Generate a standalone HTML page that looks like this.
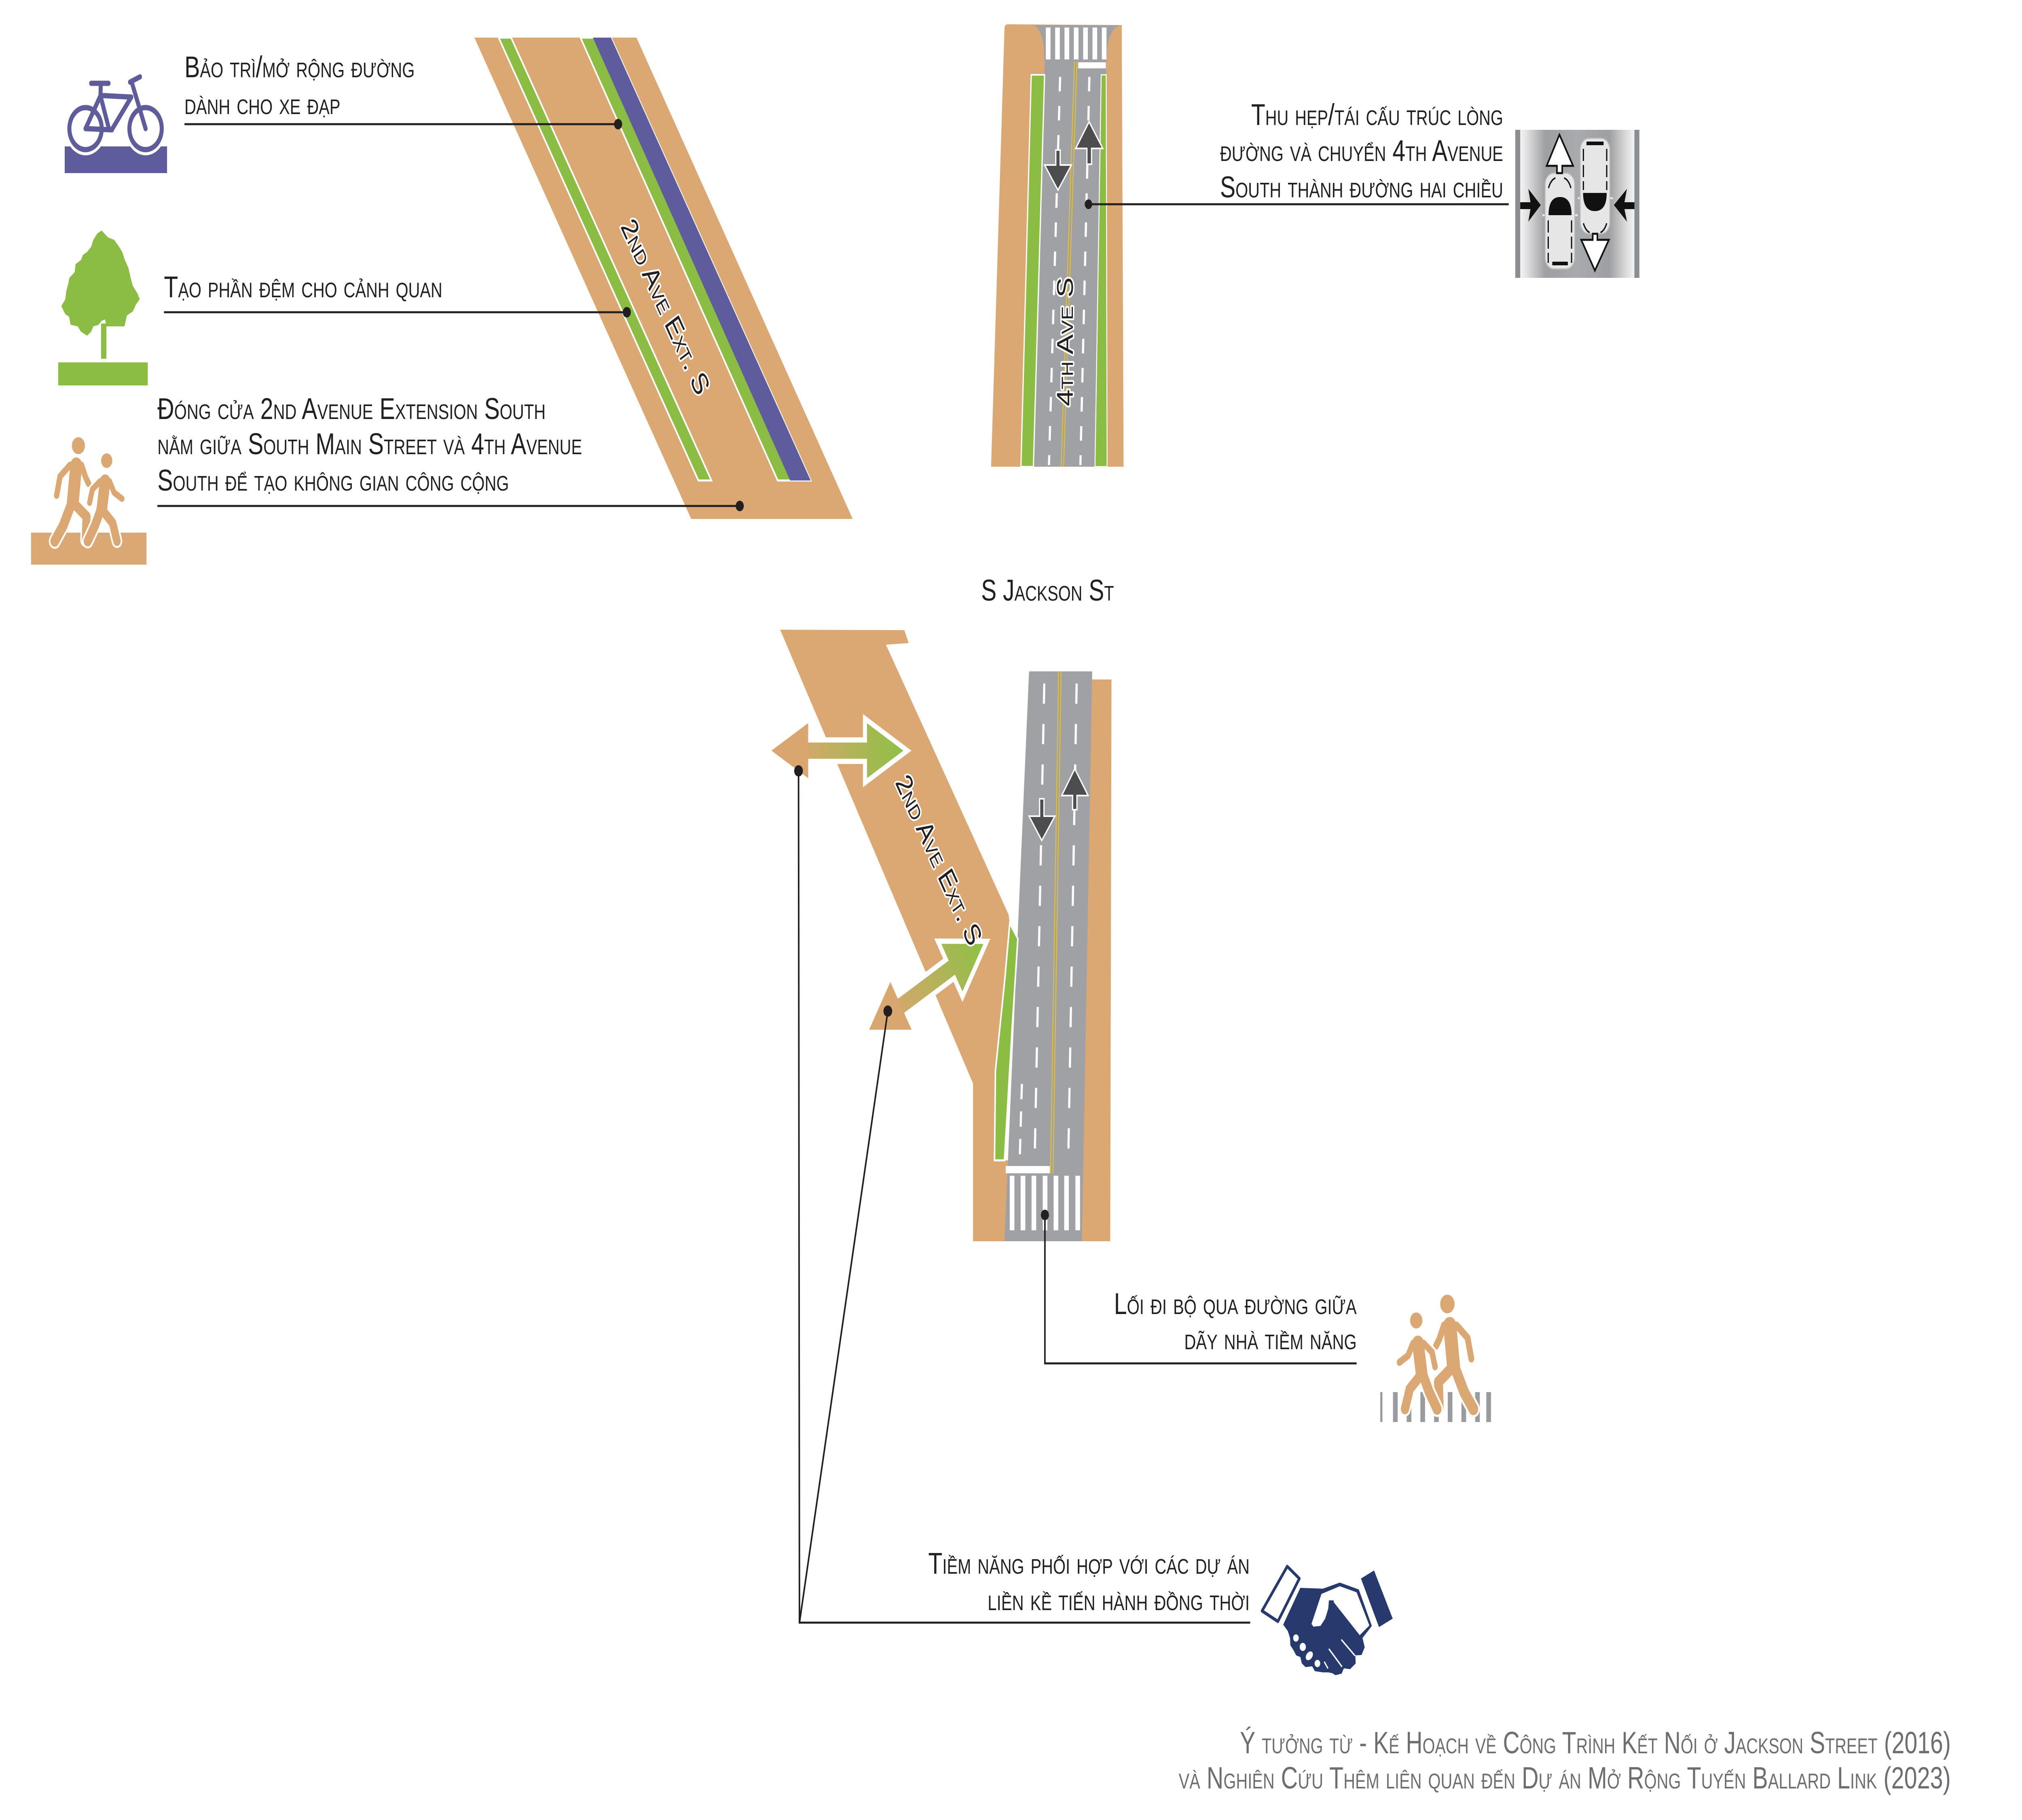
<!DOCTYPE html>
<html>
<head>
<meta charset="utf-8">
<style>
html,body{margin:0;padding:0;background:#fff;width:100%;height:100%;overflow:hidden;}
svg{display:block;width:100vw;height:100vh;}
.t{font-family:"Liberation Sans","DejaVu Sans",sans-serif;font-variant:small-caps;font-size:74px;fill:#231f20;}
.f{fill:#6d6e71;font-size:76px;}
.r{stroke:#fff;stroke-width:9px;paint-order:stroke;stroke-linejoin:round;}
</style>
</head>
<body>
<svg xmlns="http://www.w3.org/2000/svg" viewBox="0 0 6500 4500" preserveAspectRatio="none">
<defs>
  <linearGradient id="ag" gradientUnits="userSpaceOnUse" x1="2560" y1="0" x2="2900" y2="0">
    <stop offset="0" stop-color="#d9a66f"/>
    <stop offset="1" stop-color="#8fc045"/>
  </linearGradient>
  <linearGradient id="cg" gradientUnits="userSpaceOnUse" x1="4887" y1="0" x2="5254" y2="0">
    <stop offset="0" stop-color="#f4f4f4"/>
    <stop offset="0.07" stop-color="#dcdcdd"/>
    <stop offset="0.22" stop-color="#9e9fa2"/>
    <stop offset="0.5" stop-color="#a9aaad"/>
    <stop offset="0.78" stop-color="#9e9fa2"/>
    <stop offset="0.93" stop-color="#dcdcdd"/>
    <stop offset="1" stop-color="#f4f4f4"/>
  </linearGradient>
</defs>

<rect x="0" y="0" width="6500" height="4500" fill="#fff"/>

<!-- ===== Bike icon ===== -->
<rect x="208" y="362" width="329" height="66" fill="#5e5c9a"/>
<circle cx="275" cy="318" r="52" fill="none" stroke="#fff" stroke-width="28"/>
<circle cx="468" cy="318" r="52" fill="none" stroke="#fff" stroke-width="28"/>
<g stroke="#5e5c9a" stroke-width="13" fill="none" stroke-linecap="round" stroke-linejoin="round">
  <circle cx="275" cy="318" r="52"/>
  <circle cx="468" cy="318" r="52"/>
  <line x1="293" y1="206" x2="349" y2="206"/>
  <line x1="324" y1="208" x2="323" y2="237"/>
  <line x1="321" y1="240" x2="275" y2="318"/>
  <line x1="323" y1="237" x2="350" y2="318"/>
  <line x1="275" y1="318" x2="360" y2="321"/>
  <line x1="360" y1="320" x2="422" y2="240"/>
  <line x1="323" y1="236" x2="422" y2="240"/>
  <line x1="423" y1="202" x2="468" y2="318"/>
  <line x1="418" y1="203" x2="450" y2="190"/>
</g>

<!-- ===== Tree icon ===== -->
<polygon fill="#8bbd45" points="327,570 347,587 367,593 380,607 393,623 400,640 413,663 420,687 427,707 443,727 449,740 437,753 427,770 408,780 400,807 377,807 357,807 342,807 338,790 327,793 317,803 300,807 293,820 280,830 260,820 250,807 227,803 222,783 210,777 197,757 210,740 213,720 220,700 223,687 240,673 243,653 260,643 267,630 280,623 293,610 300,593 313,577"/>
<rect x="325" y="800" width="17" height="87" fill="#8bbd45"/>
<rect x="187" y="896" width="288" height="57" fill="#8bbd45"/>

<!-- ===== Walkers icon (top-left) ===== -->
<rect x="100" y="1317" width="371" height="79" fill="#dba874"/>
<g stroke-linecap="round" stroke-linejoin="round" fill="none">
  <g stroke="#fff">
    <line x1="245" y1="1150" x2="234" y2="1242" stroke-width="48"/>
    <polyline points="230,1245 203,1300 176,1338" stroke-width="38"/>
    <polyline points="238,1245 278,1277 276,1335" stroke-width="36"/>
  </g>
  <g stroke="#dba874">
    <line x1="245" y1="1150" x2="234" y2="1242" stroke-width="38"/>
    <polyline points="225,1150 193,1178 182,1225" stroke-width="17"/>
    <polyline points="262,1150 275,1180 285,1196" stroke-width="17"/>
    <polyline points="230,1245 203,1300 176,1338" stroke-width="28"/>
    <polyline points="238,1245 278,1277 276,1335" stroke-width="26"/>
  </g>
  <g stroke="#fff">
    <line x1="338" y1="1190" x2="327" y2="1260" stroke-width="44"/>
    <polyline points="322,1190 297,1210 288,1243" stroke-width="26"/>
    <polyline points="323,1262 305,1300 282,1338" stroke-width="36"/>
    <polyline points="330,1262 362,1293 376,1338" stroke-width="34"/>
  </g>
  <g stroke="#dba874">
    <line x1="338" y1="1190" x2="327" y2="1260" stroke-width="34"/>
    <polyline points="322,1190 297,1210 288,1243" stroke-width="16"/>
    <polyline points="352,1190 367,1218 392,1233" stroke-width="16"/>
    <polyline points="323,1262 305,1300 282,1338" stroke-width="26"/>
    <polyline points="330,1262 362,1293 376,1338" stroke-width="24"/>
  </g>
</g>
<circle cx="252" cy="1102" r="21" fill="#dba874"/>
<circle cx="343" cy="1139" r="18" fill="#dba874"/>

<!-- ===== Upper 2nd Ave Ext ===== -->
<polygon points="1525,93 2046,93 2741,1283 2222,1283" fill="#dba874"/>
<polygon points="1603,93 1643,93 2287,1188 2245,1188" fill="#8bbd45" stroke="#fff" stroke-width="5"/>
<polygon points="1866,93 1964,93 2606,1188 2500,1188" fill="#8bbd45" stroke="#fff" stroke-width="5"/>
<polygon points="1906,93 1964,93 2606,1188 2540,1188" fill="#5e5c9a"/>
<text class="t r" transform="translate(2140,758) rotate(59.6)" x="0" y="26" text-anchor="middle" textLength="490" lengthAdjust="spacingAndGlyphs">2nd Ave Ext. S</text>

<!-- ===== Upper 4th Ave ===== -->
<path d="M3240,60 L3606,62 L3612,1154 L3186,1154 L3229,72 Q3229,60 3240,60 Z" fill="#dba874"/>
<path d="M3322,62 L3600,62 Q3566,72 3560,120 L3556,160 L3559,1154 L3322,1154 L3358,160 L3356,120 Q3350,72 3322,62 Z" fill="#a0a1a5"/>
<g fill="#fff">
  <rect x="3362" y="68" width="15" height="79"/>
  <rect x="3392" y="68" width="15" height="79"/>
  <rect x="3422" y="68" width="15" height="79"/>
  <rect x="3452" y="68" width="15" height="79"/>
  <rect x="3482" y="68" width="15" height="79"/>
  <rect x="3512" y="68" width="15" height="79"/>
  <rect x="3542" y="68" width="15" height="79"/>
  <rect x="3466" y="154" width="89" height="15"/>
</g>
<polygon points="3315,185 3358,185 3322,1154 3282,1154" fill="#8bbd45" stroke="#fff" stroke-width="4"/>
<polygon points="3540,185 3556,185 3559,1154 3520,1154" fill="#8bbd45" stroke="#fff" stroke-width="3"/>
<line x1="3454" y1="152" x2="3411" y2="1154" stroke="#e5c02e" stroke-width="3"/>
<line x1="3462" y1="152" x2="3419" y2="1154" stroke="#e5c02e" stroke-width="3"/>
<line x1="3408" y1="190" x2="3372" y2="1150" stroke="#fff" stroke-width="7" stroke-dasharray="36 36"/>
<line x1="3502" y1="190" x2="3473" y2="1150" stroke="#fff" stroke-width="7" stroke-dasharray="36 36"/>
<path d="M3394,371 L3408,371 L3408,408 L3444,408 L3401,470 L3358,408 L3394,408 Z" fill="#4d4d4f" stroke="#fff" stroke-width="4"/>
<path d="M3501,301 L3545,367 L3509,367 L3509,406 L3494,406 L3494,367 L3458,367 Z" fill="#4d4d4f" stroke="#fff" stroke-width="4"/>
<text class="t r" transform="translate(3423,845) rotate(-90)" x="0" y="26" text-anchor="middle" textLength="319" lengthAdjust="spacingAndGlyphs">4th Ave S</text>

<!-- ===== Car icon ===== -->
<rect x="4871" y="321" width="399" height="366" fill="#8c8d90"/>
<rect x="4887" y="321" width="367" height="366" fill="url(#cg)"/>
<path d="M4887,500 L4920,500 L4913,467 L4953,507 L4913,548 L4920,517 L4887,517 Z" fill="#111"/>
<path d="M5254,500 L5222,500 L5230,467 L5188,507 L5230,548 L5222,517 L5254,517 Z" fill="#111"/>
<line x1="4958" y1="532" x2="5072" y2="532" stroke="#e6e6e6" stroke-width="5"/>
<rect x="4967" y="428" width="95" height="237" rx="28" fill="#e6e6e6" stroke="#bdbdbd" stroke-width="3"/>
<path d="M4978,532 Q4978,487 5015,487 Q5052,487 5052,532 Z" fill="#111"/>
<rect x="4990" y="647" width="50" height="9" fill="#111"/>
<line x1="4977" y1="545" x2="4977" y2="650" stroke="#111" stroke-width="4" stroke-dasharray="30 10"/>
<line x1="5052" y1="545" x2="5052" y2="650" stroke="#111" stroke-width="4" stroke-dasharray="30 10"/>
<path d="M4978,465 Q4985,445 5000,440 M5050,465 Q5043,445 5028,440" stroke="#111" stroke-width="4" fill="none"/>
<path d="M5013,333 L5057,410 L5022,410 L5022,428 L5005,428 L5005,410 L4972,410 Z" fill="#fff" stroke="#111" stroke-width="5" stroke-linejoin="miter"/>
<line x1="5072" y1="490" x2="5185" y2="490" stroke="#e6e6e6" stroke-width="5"/>
<rect x="5080" y="342" width="95" height="236" rx="28" fill="#e6e6e6" stroke="#bdbdbd" stroke-width="3"/>
<path d="M5089,477 Q5089,522 5127,522 Q5165,522 5165,477 Z" fill="#111"/>
<rect x="5100" y="350" width="55" height="9" fill="#111"/>
<line x1="5090" y1="368" x2="5090" y2="470" stroke="#111" stroke-width="4" stroke-dasharray="30 10"/>
<line x1="5165" y1="368" x2="5165" y2="470" stroke="#111" stroke-width="4" stroke-dasharray="30 10"/>
<path d="M5090,552 Q5097,570 5110,575 M5165,552 Q5158,570 5145,575" stroke="#111" stroke-width="4" fill="none"/>
<path d="M5127,669 L5083,593 L5120,593 L5120,578 L5135,578 L5135,593 L5172,593 Z" fill="#fff" stroke="#111" stroke-width="5"/>

<!-- ===== S Jackson St ===== -->
<text class="t" x="3154" y="1485" textLength="427" lengthAdjust="spacingAndGlyphs">S Jackson St</text>

<!-- ===== Lower 2nd Ave tan ===== -->
<polygon points="2508,1557 2907,1558 2921,1590 2848,1594 3242,2261 3246,2283 3229,2430 3200,2647 3197,2869 3262,2869 3262,3069 3128,3069 3128,2679" fill="#dba874"/>
<polygon points="3505,1680 3573,1680 3569,3069 3470,3069" fill="#dba874"/>
<polygon points="3308,1660 3511,1660 3478,3069 3229,3069" fill="#a0a1a5"/>
<polygon points="3246,2283 3272,2321 3254,2538 3229,2869 3197,2869 3200,2647 3229,2430" fill="#8bbd45" stroke="#fff" stroke-width="5"/>
<line x1="3403" y1="1660" x2="3377" y2="2901" stroke="#e5c02e" stroke-width="3"/>
<line x1="3411" y1="1660" x2="3385" y2="2901" stroke="#e5c02e" stroke-width="3"/>
<line x1="3357" y1="1690" x2="3326" y2="2870" stroke="#fff" stroke-width="7" stroke-dasharray="50 50"/>
<line x1="3461" y1="1690" x2="3434" y2="2870" stroke="#fff" stroke-width="7" stroke-dasharray="50 50"/>
<line x1="3285" y1="2680" x2="3278" y2="2869" stroke="#fff" stroke-width="7" stroke-dasharray="38 30"/>
<g fill="#fff">
  <rect x="3233" y="2883" width="142" height="18"/>
  <rect x="3246" y="2907" width="15" height="135"/>
  <rect x="3281" y="2907" width="15" height="135"/>
  <rect x="3316" y="2907" width="15" height="135"/>
  <rect x="3352" y="2907" width="15" height="135"/>
  <rect x="3387" y="2907" width="15" height="135"/>
  <rect x="3421" y="2907" width="15" height="135"/>
  <rect x="3457" y="2907" width="15" height="135"/>
</g>
<path d="M3342,1975 L3356,1975 L3356,2018 L3391,2018 L3349,2078 L3308,2018 L3342,2018 Z" fill="#4d4d4f" stroke="#fff" stroke-width="4"/>
<path d="M3455,1901 L3498,1967 L3462,1967 L3462,2002 L3448,2002 L3448,1967 L3413,1967 Z" fill="#4d4d4f" stroke="#fff" stroke-width="4"/>

<!-- ===== Double arrows ===== -->
<path d="M2480,1856 L2598,1788 L2598,1836 L2787,1836 L2787,1788 L2904,1856 L2787,1924 L2787,1876 L2598,1876 L2598,1924 Z" fill="#fff" stroke="#fff" stroke-width="26" stroke-linejoin="miter"/>
<path d="M2480,1856 L2598,1788 L2598,1836 L2787,1836 L2787,1788 L2904,1856 L2787,1924 L2787,1876 L2598,1876 L2598,1924 Z" fill="url(#ag)"/>
<g transform="translate(2794,2546) rotate(-30) translate(-2480,-1856)">
  <path d="M2480,1856 L2598,1788 L2598,1836 L2787,1836 L2787,1788 L2904,1856 L2787,1924 L2787,1876 L2598,1876 L2598,1924 Z" fill="#fff" stroke="#fff" stroke-width="26" stroke-linejoin="miter"/>
  <path d="M2480,1856 L2598,1788 L2598,1836 L2787,1836 L2787,1788 L2904,1856 L2787,1924 L2787,1876 L2598,1876 L2598,1924 Z" fill="url(#ag)"/>
</g>
<path d="M2480,1856 L2598,1788 L2598,1924 Z" fill="#d9a66f"/>
<g transform="translate(2794,2546) rotate(-30) translate(-2480,-1856)">
  <path d="M2480,1856 L2598,1788 L2598,1924 Z" fill="#d9a66f"/>
</g>

<text class="t r" transform="translate(3019,2126) rotate(59.6)" x="0" y="26" text-anchor="middle" textLength="475" lengthAdjust="spacingAndGlyphs">2nd Ave Ext. S</text>

<!-- ===== Leader lines ===== -->
<g stroke="#231f20" stroke-width="5" fill="none">
  <line x1="593" y1="307" x2="1987" y2="307"/>
  <line x1="527" y1="772" x2="2015" y2="772"/>
  <line x1="506" y1="1251" x2="2378" y2="1251"/>
  <line x1="3499" y1="505" x2="4850" y2="505"/>
  <polyline points="3359,3004 3359,3371 4361,3371"/>
  <polyline points="2567,1906 2570,4012 4019,4012"/>
  <line x1="2854" y1="2500" x2="2570" y2="4012"/>
</g>
<g fill="#231f20">
  <circle cx="1987" cy="307" r="13"/>
  <circle cx="2015" cy="772" r="13"/>
  <circle cx="2378" cy="1251" r="13"/>
  <circle cx="3499" cy="505" r="12"/>
  <circle cx="3359" cy="3004" r="13"/>
  <circle cx="2567" cy="1906" r="14"/>
  <circle cx="2854" cy="2500" r="14"/>
</g>

<!-- ===== Texts ===== -->
<text class="t" x="593" y="191" textLength="740" lengthAdjust="spacingAndGlyphs">Bảo trì/mở rộng đường</text>
<text class="t" x="593" y="282" textLength="501" lengthAdjust="spacingAndGlyphs">dành cho xe đạp</text>
<text class="t" x="527" y="735" textLength="895" lengthAdjust="spacingAndGlyphs">Tạo phần đệm cho cảnh quan</text>
<text class="t" x="506" y="1036" textLength="1248" lengthAdjust="spacingAndGlyphs">Đóng cửa 2nd Avenue Extension South</text>
<text class="t" x="506" y="1123" textLength="1365" lengthAdjust="spacingAndGlyphs">nằm giữa South Main Street và 4th Avenue</text>
<text class="t" x="506" y="1213" textLength="1130" lengthAdjust="spacingAndGlyphs">South để tạo không gian công cộng</text>

<text class="t" x="4832" y="309" text-anchor="end" textLength="810" lengthAdjust="spacingAndGlyphs">Thu hẹp/tái cấu trúc lòng</text>
<text class="t" x="4832" y="398" text-anchor="end" textLength="910" lengthAdjust="spacingAndGlyphs">đường và chuyển 4th Avenue</text>
<text class="t" x="4832" y="488" text-anchor="end" textLength="910" lengthAdjust="spacingAndGlyphs">South thành đường hai chiều</text>

<text class="t" x="4361" y="3249" text-anchor="end" textLength="780" lengthAdjust="spacingAndGlyphs">Lối đi bộ qua đường giữa</text>
<text class="t" x="4361" y="3336" text-anchor="end" textLength="554" lengthAdjust="spacingAndGlyphs">dãy nhà tiềm năng</text>

<text class="t" x="4017" y="3891" text-anchor="end" textLength="1033" lengthAdjust="spacingAndGlyphs">Tiềm năng phối hợp với các dự án</text>
<text class="t" x="4017" y="3981" text-anchor="end" textLength="842" lengthAdjust="spacingAndGlyphs">liền kề tiến hành đồng thời</text>

<text class="t f" x="6271" y="4335" text-anchor="end" textLength="2285" lengthAdjust="spacingAndGlyphs">Ý tưởng từ - Kế Hoạch về Công Trình Kết Nối ở Jackson Street (2016)</text>
<text class="t f" x="6271" y="4422" text-anchor="end" textLength="2482" lengthAdjust="spacingAndGlyphs">và Nghiên Cứu Thêm liên quan đến Dự án Mở Rộng Tuyến Ballard Link (2023)</text>

<!-- ===== Pedestrian crossing icon (bottom right) ===== -->
<g fill="#9a9b9f">
  <rect x="4437" y="3442" width="7" height="74"/>
  <rect x="4478" y="3442" width="15" height="74"/>
  <rect x="4522" y="3442" width="15" height="74"/>
  <rect x="4566" y="3442" width="15" height="74"/>
  <rect x="4610" y="3442" width="15" height="74"/>
  <rect x="4654" y="3442" width="15" height="74"/>
  <rect x="4698" y="3442" width="15" height="74"/>
  <rect x="4742" y="3442" width="15" height="74"/>
  <rect x="4778" y="3442" width="15" height="74"/>
</g>
<g transform="translate(4930,2012) scale(-1.1,1.1)">
  <g stroke-linecap="round" stroke-linejoin="round" fill="none">
    <g stroke="#fff">
      <line x1="245" y1="1150" x2="234" y2="1242" stroke-width="48"/>
      <polyline points="230,1245 203,1300 176,1338" stroke-width="38"/>
      <polyline points="238,1245 278,1277 276,1335" stroke-width="36"/>
    </g>
    <g stroke="#dba874">
      <line x1="245" y1="1150" x2="234" y2="1242" stroke-width="38"/>
      <polyline points="225,1150 193,1178 182,1225" stroke-width="17"/>
      <polyline points="262,1150 275,1180 285,1196" stroke-width="17"/>
      <polyline points="230,1245 203,1300 176,1338" stroke-width="28"/>
      <polyline points="238,1245 278,1277 276,1335" stroke-width="26"/>
    </g>
    <g stroke="#fff">
      <line x1="338" y1="1190" x2="327" y2="1260" stroke-width="44"/>
      <polyline points="322,1190 297,1210 288,1243" stroke-width="26"/>
      <polyline points="323,1262 305,1300 282,1338" stroke-width="36"/>
      <polyline points="330,1262 362,1293 376,1338" stroke-width="34"/>
    </g>
    <g stroke="#dba874">
      <line x1="338" y1="1190" x2="327" y2="1260" stroke-width="34"/>
      <polyline points="322,1190 297,1210 288,1243" stroke-width="16"/>
      <polyline points="352,1190 367,1218 392,1233" stroke-width="16"/>
      <polyline points="323,1262 305,1300 282,1338" stroke-width="26"/>
      <polyline points="330,1262 362,1293 376,1338" stroke-width="24"/>
    </g>
  </g>
  <circle cx="252" cy="1102" r="21" fill="#dba874"/>
  <circle cx="343" cy="1139" r="18" fill="#dba874"/>
</g>

<!-- ===== Handshake icon ===== -->
<polygon points="4138,3873 4177,3903 4108,4009 4057,3983" fill="#fff" stroke="#273a6e" stroke-width="8" stroke-linejoin="round"/>
<polygon points="4417,3883 4477,4002 4433,4023 4375,3903" fill="#273a6e"/>
<polygon fill="#273a6e" points="4125,4017 4180,3926 4253,3928 4307,3913 4368,3930 4410,4020 4380,4050 4387,4073 4377,4092 4357,4093 4358,4113 4340,4127 4320,4125 4313,4138 4293,4142 4283,4137 4270,4135 4253,4135 4227,4132 4218,4120 4197,4122 4185,4113 4180,4097 4167,4093 4158,4080 4148,4068 4147,4050 4140,4033"/>
<polygon fill="#fff" points="4248,3941 4307,3922 4361,3937 4402,4019 4371,4043 4288,3962 4287,3957 4272,3957 4270,3977 4260,4002 4245,4020 4222,4022 4216,4015"/>
<g fill="#fff">
  <circle cx="4166" cy="4050" r="9"/>
  <circle cx="4188" cy="4072" r="10"/>
  <ellipse cx="4209" cy="4094" rx="13" ry="9" transform="rotate(-40 4209 4094)"/>
  <circle cx="4235" cy="4113" r="9"/>
</g>
<g stroke="#fff" stroke-width="4" stroke-linecap="round">
  <line x1="4313" y1="4055" x2="4355" y2="4093"/>
  <line x1="4273" y1="4078" x2="4313" y2="4120"/>
  <line x1="4258" y1="4110" x2="4268" y2="4124"/>
</g>

</svg>
</body>
</html>
